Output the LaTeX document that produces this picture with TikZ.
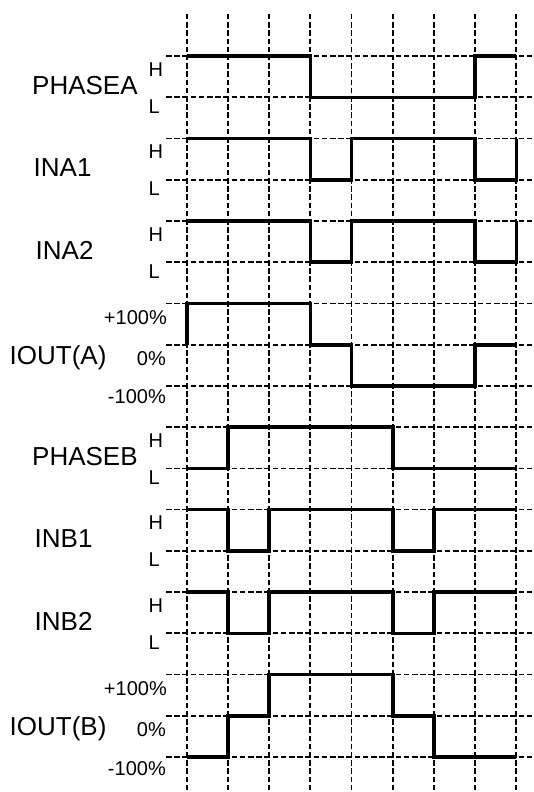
\documentclass[tikz,border=0pt]{standalone}
\usepackage{fontspec}
\setmainfont{Liberation Sans}
\begin{document}
\begin{tikzpicture}[x=1pt,y=-1pt,
  gridline/.style={line width=1.7pt, dash pattern=on 5.5pt off 2.7pt},
  wave/.style={line width=3.6pt, line join=miter},
  sig/.style={anchor=base west, inner sep=0pt, font=\fontsize{26}{26}\selectfont},
  lvl/.style={anchor=base west, inner sep=0pt, font=\fontsize{20}{20}\selectfont},
  pct/.style={anchor=base east, inner sep=0pt, font=\fontsize{20}{20}\selectfont}]
\useasboundingbox (0,0) rectangle (534,792);
\def\cx#1{(186.7+41.2*(#1))}
\def\ry#1{(56.1+41.23*(#1))}
% grid coordinates
\foreach \c in {0,...,8}{
  \foreach \r in {0,...,17}{
    \coordinate (g\c-\r) at ({\cx{\c}},{\ry{\r}});
  }
}
% dashed grid
\foreach \c in {0,...,8}{
  \coordinate (vt\c) at ({\cx{\c}},14);
  \coordinate (vb\c) at ({\cx{\c}},792);
  \draw[gridline] (vt\c) -- (vb\c);
}
\foreach \r in {0,...,17}{
  \coordinate (hl\r) at (166,{\ry{\r}});
  \coordinate (hr\r) at (534,{\ry{\r}});
  \draw[gridline] (hl\r) -- (hr\r);
}
% waveforms
\draw[wave] (g0-0)--(g3-0)--(g3-1)--(g7-1)--(g7-0)--(g8-0);
\draw[wave] (g0-2)--(g3-2)--(g3-3)--(g4-3)--(g4-2)--(g7-2)--(g7-3)--(g8-3)--(g8-2);
\draw[wave] (g0-4)--(g3-4)--(g3-5)--(g4-5)--(g4-4)--(g7-4)--(g7-5)--(g8-5)--(g8-4);
\draw[wave] (g0-7)--(g0-6)--(g3-6)--(g3-7)--(g4-7)--(g4-8)--(g7-8)--(g7-7)--(g8-7);
\draw[wave] (g0-10)--(g1-10)--(g1-9)--(g5-9)--(g5-10)--(g8-10);
\draw[wave] (g0-11)--(g1-11)--(g1-12)--(g2-12)--(g2-11)--(g5-11)--(g5-12)--(g6-12)--(g6-11)--(g8-11);
\draw[wave] (g0-13)--(g1-13)--(g1-14)--(g2-14)--(g2-13)--(g5-13)--(g5-14)--(g6-14)--(g6-13)--(g8-13);
\draw[wave] (g0-17)--(g1-17)--(g1-16)--(g2-16)--(g2-15)--(g5-15)--(g5-16)--(g6-16)--(g6-17)--(g8-17);
% signal names
\node[sig] (nPA) at (32,{\ry{1}-3}) {PHASEA};
\node[sig] (nA1) at (33.5,{\ry{3}-3}) {INA1};
\node[sig] (nA2) at (35.5,{\ry{5}-3}) {INA2};
\node[sig] (nIA) at (9.5,{\ry{7}+19.5}) {IOUT(A)};
\node[sig] (nPB) at (32,{\ry{10}-3}) {PHASEB};
\node[sig] (nB1) at (34.5,{\ry{12}-3}) {INB1};
\node[sig] (nB2) at (34.5,{\ry{14}-3}) {INB2};
\node[sig] (nIB) at (9.5,{\ry{16}+19.5}) {IOUT(B)};
% H / L levels
\foreach \h/\l [count=\i] in {0/1,2/3,4/5,9/10,11/12,13/14}{
  \node[lvl] (h\i) at (148.5,{\ry{\h}+20}) {H};
  \node[lvl] (l\i) at (148.5,{\ry{\l}+16}) {L};
}
% percent levels
\foreach \t [count=\i] in {6,15}{
  \node[pct] (p\i) at (167,{\ry{\t}+21}) {+100\%};
  \node[pct] (z\i) at (166,{\ry{\t+1}+21}) {0\%};
  \node[pct] (m\i) at (166,{\ry{\t+2}+18}) {-100\%};
}
\end{tikzpicture}
\end{document}
